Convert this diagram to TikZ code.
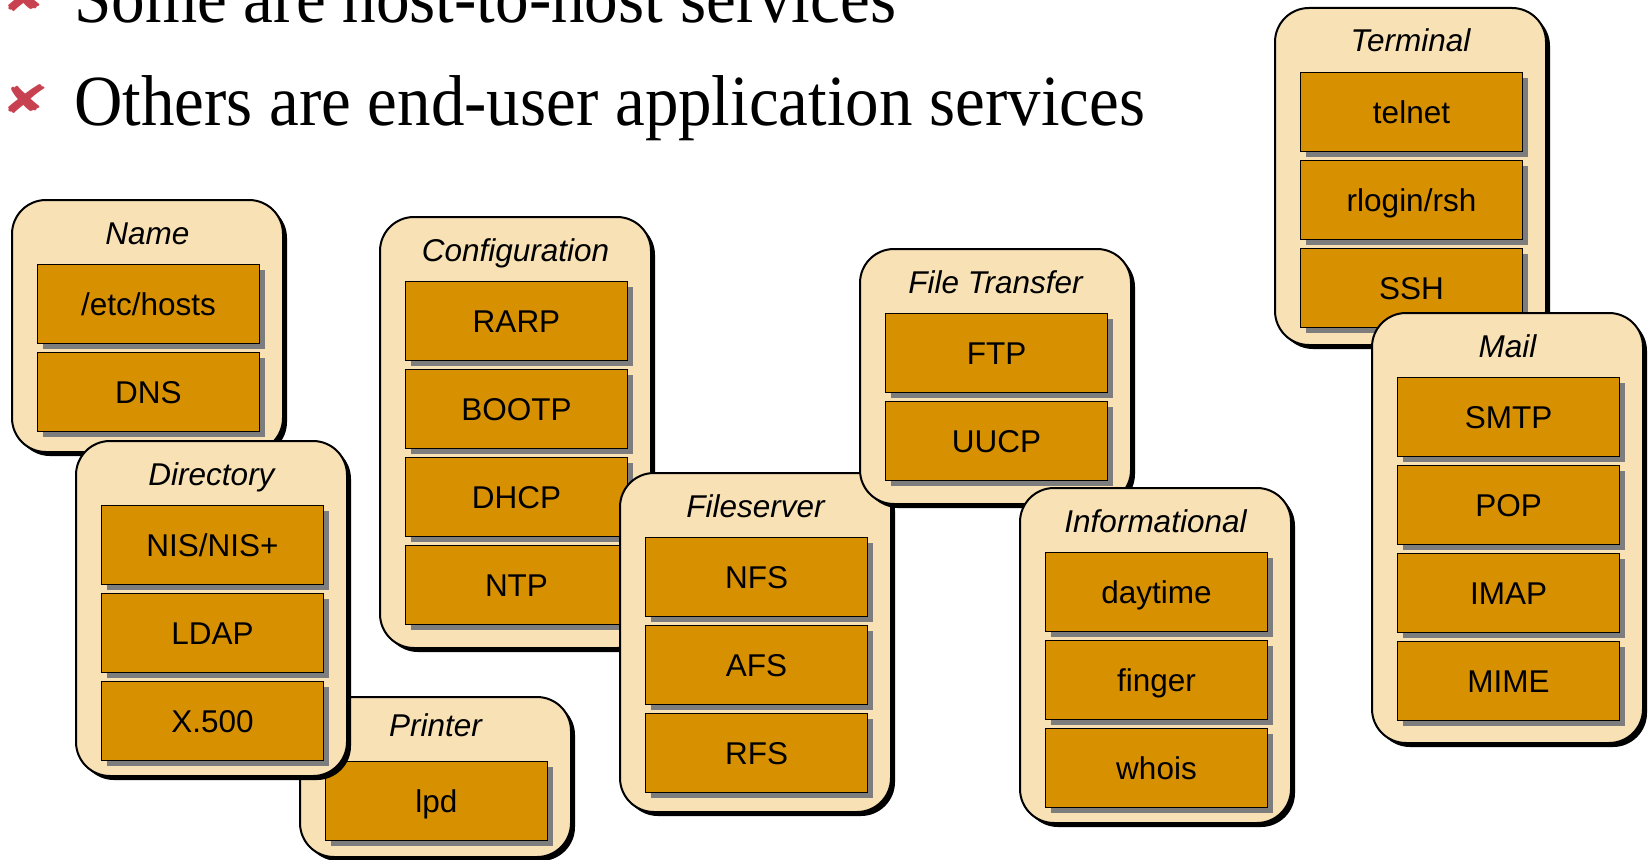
\documentclass[tikz,border=0pt]{standalone}
\usepackage{fontspec}
\newfontfamily\arialf{Liberation Sans}
\newfontfamily\timesf{Liberation Serif}
\newfontfamily\dejavuf{DejaVu Sans}
\usetikzlibrary{shadows,calc}
\definecolor{grpfill}{RGB}{247,225,181}
\definecolor{svcfill}{RGB}{215,145,0}
\definecolor{bulletred}{RGB}{200,65,80}
\definecolor{svcshadow}{RGB}{125,125,125}
\tikzset{
  grp/.style={draw=black, line width=2pt, fill=grpfill, rounded corners=34pt,
    minimum width=271pt, inner sep=0pt, outer sep=0pt, anchor=north west,
    drop shadow={shadow xshift=4pt, shadow yshift=-4pt, fill=black, opacity=1}},
  grptitle/.style={anchor=base, inner sep=0pt, font=\arialf\itshape\fontsize{31.5pt}{36pt}\selectfont},
  svc/.style={draw=black, line width=1.6pt, fill=svcfill, minimum width=222pt,
    minimum height=79pt, inner sep=0pt, outer sep=0pt, anchor=north west,
    text height=23pt, text depth=0pt, font=\arialf\fontsize{31.5pt}{36pt}\selectfont,
    drop shadow={shadow xshift=5pt, shadow yshift=-5pt, fill=svcshadow, opacity=1}},
  bullettext/.style={anchor=base west, inner sep=0pt, font=\timesf\fontsize{72pt}{80pt}\selectfont},
  bulletmark/.style={inner sep=0pt, text=bulletred, font=\dejavuf\fontsize{46pt}{48pt}\selectfont},
}
\newcommand{\svcgroup}[7][44]{%
  \node[grp, minimum height=#5pt] (#2) at (#3,#4) {};
  \node[grptitle] (#2-title) at ($(#2.north)+(0,#1)$) {#6};
  \foreach \lbl [count=\i from 0] in {#7} {
    \node[svc] (#2-\i) at ($(#2.north west)+(25.5,64.5+88*\i)$) {\lbl};
  }%
}
\begin{document}
\begin{tikzpicture}[x=1pt,y=-1pt]
  \useasboundingbox (0,0) rectangle (1648,859);
  \clip (0,0) rectangle (1648,859);
  % bullets
  \node[bulletmark] (mark1) at (26,-3) {\scalebox{1.25}[0.85]{✘}};
  \node[bullettext] (line1) at (74,23) {\resizebox{822pt}{\height}{Some are host-to-host services}};
  \node[bulletmark] (mark2) at (26,99) {\scalebox{1.25}[0.85]{✘}};
  \node[bullettext] (line2) at (74,125) {\resizebox{1071pt}{\height}{Others are end-user application services}};
  % groups
  \svcgroup{name}{12}{200}{252}{Name}{/etc/hosts,DNS}
  \svcgroup[39]{printer}{300}{697}{160}{Printer}{lpd}
  \svcgroup{directory}{76}{441}{335}{Directory}{NIS/NIS+,LDAP,X.500}
  \svcgroup{config}{380}{217}{431}{Configuration}{RARP,BOOTP,DHCP,NTP}
  \svcgroup{fileserver}{620}{473}{339}{Fileserver}{NFS,AFS,RFS}
  \svcgroup{filetransfer}{860}{249}{255}{File Transfer}{FTP,UUCP}
  \svcgroup{info}{1020}{488}{335}{Informational}{daytime,finger,whois}
  \svcgroup{terminal}{1275}{8}{337}{Terminal}{telnet,rlogin/rsh,SSH}
  \svcgroup{mail}{1372}{313}{430}{Mail}{SMTP,POP,IMAP,MIME}
\end{tikzpicture}
\end{document}
